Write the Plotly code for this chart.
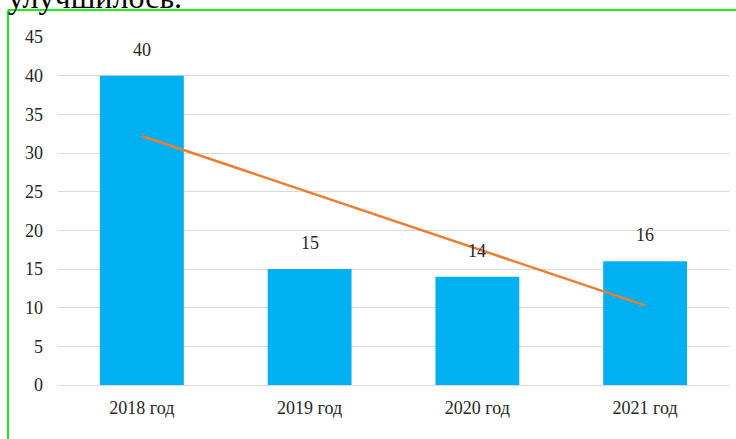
import plotly.graph_objects as go

categories = ["2018 год", "2019 год", "2020 год", "2021 год"]
values = [40, 15, 14, 16]
trend_x = ["2018 год", "2021 год"]
trend_values = [32.2, 10.3]
y_ticks = [0, 5, 10, 15, 20, 25, 30, 35, 40, 45]
top_text = "улучшилось."

W, H = 736, 439
L, R, T, B = 58, 7, 37, 54
pw, ph = W - L - R, H - T - B

def px_x(x):
    return (x - L) / pw

def px_y(y):
    return (H - B - y) / ph

font_family = "Liberation Serif"

fig = go.Figure()
fig.add_trace(go.Bar(
    x=categories, y=values, marker_color="#00B0F0", width=0.5,
    marker_line_width=0, showlegend=False, hoverinfo="skip"))
fig.add_trace(go.Scatter(
    x=trend_x, y=trend_values, mode="lines",
    line=dict(color="#ED7D31", width=2.5), showlegend=False, hoverinfo="skip"))

for c, v in zip(categories, values):
    fig.add_annotation(x=c, y=v, text=str(v), showarrow=False,
                       yanchor="bottom", yshift=14,
                       font=dict(family=font_family, size=18, color="#262626"))

# clipped text above the chart
fig.add_annotation(xref="paper", yref="paper", x=px_x(6), y=px_y(17),
                   xanchor="left", yanchor="bottom", text=top_text, showarrow=False,
                   font=dict(family=font_family, size=32, color="#000000"))

# green frame (left and top edges)
fig.add_shape(type="line", xref="paper", yref="paper",
              x0=px_x(8), x1=px_x(8), y0=px_y(10), y1=px_y(460),
              line=dict(color="#1AF01A", width=2), layer="above")
fig.add_shape(type="line", xref="paper", yref="paper",
              x0=px_x(8), x1=px_x(760), y0=px_y(10), y1=px_y(10),
              line=dict(color="#1AF01A", width=2), layer="above")

fig.update_layout(
    width=W, height=H,
    margin=dict(l=L, r=R, t=T, b=B),
    paper_bgcolor="white", plot_bgcolor="white",
    bargap=0.5,
    font=dict(family=font_family, size=18, color="#262626"),
    xaxis=dict(showgrid=False, showline=False, zeroline=False,
               ticks="", ticklabelstandoff=10,
               tickfont=dict(family=font_family, size=18, color="#262626")),
    yaxis=dict(range=[0, 45], tickvals=y_ticks, showgrid=True,
               gridcolor="#D9D9D9", gridwidth=1, zeroline=True,
               zerolinecolor="#D9D9D9", zerolinewidth=1, showline=False,
               ticks="", ticklabelstandoff=14,
               tickfont=dict(family=font_family, size=18, color="#262626")),
)

fig.write_html("out.html")
